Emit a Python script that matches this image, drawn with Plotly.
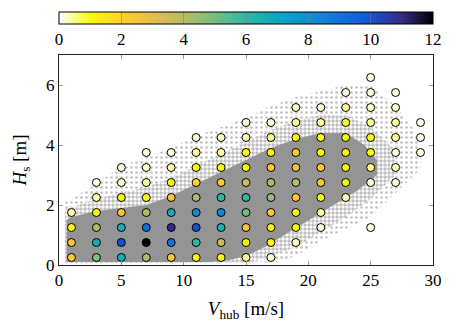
import plotly.graph_objects as go

# ---- data ----
# discrete bins: wind speed V (m/s), wave height H (m), colour value
circ_V = [1]*4 + [3]*6 + [5]*7 + [7]*8 + [9]*8 + [11]*9 + [13]*9 + [15]*10 + [17]*10 + [19]*10 + [21]*9 + [23]*8 + [25]*9 + [27]*7 + [29]*3
circ_H = (
    [0.25, 0.75, 1.25, 1.75]
    + [0.25, 0.75, 1.25, 1.75, 2.25, 2.75]
    + [0.25, 0.75, 1.25, 1.75, 2.25, 2.75, 3.25]
    + [0.25, 0.75, 1.25, 1.75, 2.25, 2.75, 3.25, 3.75]
    + [0.25, 0.75, 1.25, 1.75, 2.25, 2.75, 3.25, 3.75]
    + [0.25, 0.75, 1.25, 1.75, 2.25, 2.75, 3.25, 3.75, 4.25]
    + [0.25, 0.75, 1.25, 1.75, 2.25, 2.75, 3.25, 3.75, 4.25]
    + [0.25, 0.75, 1.25, 1.75, 2.25, 2.75, 3.25, 3.75, 4.25, 4.75]
    + [0.25, 0.75, 1.25, 1.75, 2.25, 2.75, 3.25, 3.75, 4.25, 4.75]
    + [0.75, 1.25, 1.75, 2.25, 2.75, 3.25, 3.75, 4.25, 4.75, 5.25]
    + [1.25, 1.75, 2.25, 2.75, 3.25, 3.75, 4.25, 4.75, 5.25]
    + [2.25, 2.75, 3.25, 3.75, 4.25, 4.75, 5.25, 5.75]
    + [1.25, 2.75, 3.25, 3.75, 4.25, 4.75, 5.25, 5.75, 6.25]
    + [2.75, 3.25, 3.75, 4.25, 4.75, 5.25, 5.75]
    + [3.75, 4.25, 4.75]
)
circ_C = (
    [2.3, 2.3, 1.1, 0.4]
    + [4.9, 6.7, 4.2, 1.1, 0.4, 0.15]
    + [6.7, 10.0, 6.7, 2.3, 1.1, 0.2, 0.15]
    + [4.2, 12.0, 9.0, 4.2, 1.1, 0.4, 0.2, 0.15]
    + [2.3, 9.0, 11.0, 6.7, 2.3, 1.1, 0.4, 0.15]
    + [1.1, 6.0, 10.0, 8.3, 4.2, 2.0, 1.1, 0.4, 0.15]
    + [1.1, 3.5, 6.5, 8.3, 6.0, 2.3, 1.1, 0.4, 0.2]
    + [0.4, 1.1, 2.3, 5.0, 6.0, 3.5, 1.1, 1.0, 0.3, 0.15]
    + [0.15, 1.1, 1.1, 2.3, 4.7, 4.3, 2.3, 1.1, 0.5, 0.15]
    + [0.3, 1.0, 1.1, 2.4, 4.0, 2.8, 2.4, 1.1, 0.4, 0.2]
    + [0.15, 0.4, 1.1, 2.3, 2.3, 1.1, 1.0, 0.4, 0.2]
    + [0.3, 1.0, 1.1, 1.1, 1.1, 0.8, 0.4, 0.15]
    + [0.1, 0.15, 0.5, 1.0, 1.0, 0.4, 0.2, 0.15, 0.1]
    + [0.15, 0.3, 0.2, 0.4, 0.4, 0.2, 0.15]
    + [0.1, 0.1, 0.1]
)

# envelopes of the grey sample cloud (sparse, medium, dense)
sparse_V = [0.5, 0.5, 3, 5, 7, 9, 11, 13, 15, 17, 19, 21, 23, 25, 27, 28.5, 29, 29, 27, 25, 23, 21, 19, 17.5, 0.5]
sparse_H = [0.05, 2.1, 2.7, 3.3, 3.6, 3.9, 4.3, 4.6, 4.9, 5.3, 5.6, 5.8, 6.0, 6.0, 5.3, 4.5, 3.8, 3.2, 2.4, 1.6, 1.2, 0.8, 0.3, 0.1, 0.05]
medium_V = [0.5, 0.5, 3, 5, 7, 9, 11, 13, 15, 17, 19, 21, 23, 25, 26.5, 27, 27, 25, 23, 21, 19, 17, 15.5, 0.5]
medium_H = [0.08, 1.85, 2.2, 2.4, 2.6, 2.9, 3.3, 3.7, 4.1, 4.5, 4.8, 5.0, 5.0, 4.6, 4.0, 3.5, 3.0, 2.2, 1.6, 1.1, 0.6, 0.3, 0.1, 0.08]
dense_V = [0.6, 0.6, 1, 3, 5, 7, 9, 11, 13, 15, 17, 19, 21, 23, 24.5, 25.5, 25.5, 24, 22, 20, 18, 16.5, 15, 13.5, 12, 0.6]
dense_H = [0.1, 1.5, 1.6, 1.8, 1.9, 2.0, 2.3, 2.7, 3.1, 3.5, 3.9, 4.2, 4.4, 4.4, 4.0, 3.5, 3.0, 2.5, 2.0, 1.5, 1.0, 0.6, 0.3, 0.15, 0.1, 0.1]

x_ticks = [0, 5, 10, 15, 20, 25, 30]
y_ticks = [0, 2, 4, 6]
cb_ticks = [0, 2, 4, 6, 8, 10, 12]

# ---- styles ----
FONT = "Liberation Serif, Times New Roman, DejaVu Serif, serif"
cscale = [
    [0.0, "#ffffff"],
    [1/12, "#f9fb0e"],
    [2.25/12, "#fec832"],
    [3.5/12, "#d1bb59"],
    [4.75/12, "#87bf77"],
    [6/12, "#2eb7a4"],
    [7.25/12, "#06a4ca"],
    [8.5/12, "#1481d6"],
    [9.75/12, "#0f5cdd"],
    [11/12, "#352a87"],
    [1.0, "#000000"],
]

fig = go.Figure()
fig.add_trace(go.Scatter(x=sparse_V, y=sparse_H, mode="lines", fill="toself",
                         line=dict(width=0), fillcolor="rgba(0,0,0,0)",
                         fillpattern=dict(shape=".", fgcolor="#808080", bgcolor="white",
                                          size=5, solidity=0.22),
                         hoverinfo="skip", showlegend=False))
fig.add_trace(go.Scatter(x=medium_V, y=medium_H, mode="lines", fill="toself",
                         line=dict(width=0), fillcolor="rgba(0,0,0,0)",
                         fillpattern=dict(shape=".", fgcolor="#808080", bgcolor="white",
                                          size=4, solidity=0.6),
                         hoverinfo="skip", showlegend=False))
fig.add_trace(go.Scatter(x=dense_V, y=dense_H, mode="lines", fill="toself",
                         line=dict(width=0), fillcolor="#949494",
                         hoverinfo="skip", showlegend=False))
fig.add_trace(go.Scatter(
    x=circ_V, y=circ_H, mode="markers",
    marker=dict(size=8, color=circ_C, cmin=0, cmax=12, colorscale=cscale,
                line=dict(width=1, color="black"),
                colorbar=dict(orientation="h", x=0.5, xanchor="center",
                              y=1 + 45/220, yanchor="top", yref="paper",
                              len=1, lenmode="fraction", thickness=12,
                              xpad=0, ypad=0, outlinewidth=1, outlinecolor="black",
                              tickvals=cb_ticks, ticks="inside", ticklen=12,
                              tickcolor="rgba(120,120,120,0.5)",
                              tickfont=dict(family=FONT, size=17, color="black"))),
    showlegend=False))

axis_common = dict(showgrid=False, zeroline=False, showline=True, linecolor="#222",
                   linewidth=1, mirror="ticks", ticks="inside", ticklen=4,
                   tickcolor="#999", tickfont=dict(family=FONT, size=17, color="black"))
fig.update_xaxes(range=[0, 30], tickvals=x_ticks,
                 title=dict(text="<i>V</i><sub>hub</sub> [m/s]", standoff=12,
                            font=dict(family=FONT, size=19, color="black")),
                 **axis_common)
fig.update_yaxes(range=[0, 7], tickvals=y_ticks,
                 title=dict(text="<i>H</i><sub>s</sub> [m]", standoff=14,
                            font=dict(family=FONT, size=19, color="black")),
                 **axis_common)
fig.update_layout(width=454, height=330, margin=dict(l=59, r=18, t=45, b=65),
                  plot_bgcolor="white", paper_bgcolor="white",
                  font=dict(family=FONT, color="black"))
fig.write_html("out.html")
